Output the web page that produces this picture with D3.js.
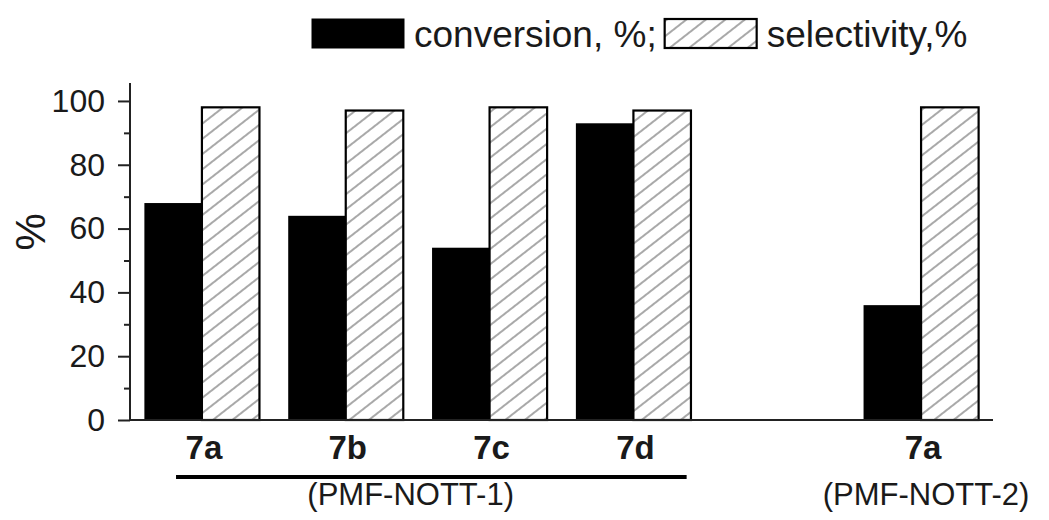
<!DOCTYPE html>
<html>
<head>
<meta charset="utf-8">
<script src="https://cdn.jsdelivr.net/npm/d3@7"></script>
<style>
  html, body { margin: 0; padding: 0; background: #fff; }
  svg { display: block; font-family: "Liberation Sans", Arial, sans-serif; }
</style>
</head>
<body>
<div id="chart"></div>
<script>
const samples = ["7a", "7b", "7c", "7d", "7a"];
const frameworks = ["PMF-NOTT-1", "PMF-NOTT-1", "PMF-NOTT-1", "PMF-NOTT-1", "PMF-NOTT-2"];
const conversion = [68, 64, 54, 93, 36];
const selectivity = [98, 97, 98, 97, 98];
const yTicks = [0, 20, 40, 60, 80, 100];
const yMinorTicks = [10, 30, 50, 70, 90];
const seriesNames = ["conversion, %;", "selectivity,%"];

const width = 1049;
const height = 520;
const textColor = "#1a1a1a";

// one band slot per sample, with an empty slot between the two frameworks
const slots = [];
samples.forEach((s, i) => {
  if (i > 0 && frameworks[i] !== frameworks[i - 1]) slots.push("gap" + i);
  slots.push(frameworks[i] + "/" + s);
});
const keyOf = (i) => frameworks[i] + "/" + samples[i];

const x = d3.scaleBand().domain(slots).range([130, 993]).padding(0);
const y = d3.scaleLinear().domain([0, 105]).range([420, 85]);
const barW = x.bandwidth() * 0.4;
const center = (i) => x(keyOf(i)) + x.bandwidth() / 2;

const svg = d3.select("#chart").append("svg")
  .attr("width", width)
  .attr("height", height);

svg.append("rect").attr("width", width).attr("height", height).attr("fill", "#fff");

//hatch pattern
const defs = svg.append("defs");
const pat = defs.append("pattern")
  .attr("id", "hatch")
  .attr("patternUnits", "userSpaceOnUse")
  .attr("width", 12)
  .attr("height", 12)
  .attr("patternTransform", "rotate(-38)");
pat.append("rect").attr("width", 12).attr("height", 12).attr("fill", "#fff");
pat.append("line")
  .attr("x1", 0).attr("x2", 12).attr("y1", 6).attr("y2", 6)
  .attr("stroke", "#7a7a7a").attr("stroke-width", 1.3);

const idx = d3.range(samples.length);

// conversion bars
svg.append("g").selectAll("rect")
  .data(idx)
  .join("rect")
  .attr("x", (i) => center(i) - barW)
  .attr("y", (i) => y(conversion[i]))
  .attr("width", barW)
  .attr("height", (i) => y(0) - y(conversion[i]))
  .attr("fill", "#000");

// selectivity bars
svg.append("g").selectAll("rect")
  .data(idx)
  .join("rect")
  .attr("x", (i) => center(i))
  .attr("y", (i) => y(selectivity[i]))
  .attr("width", barW)
  .attr("height", (i) => y(0) - y(selectivity[i]))
  .attr("fill", "url(#hatch)")
  .attr("stroke", "#000")
  .attr("stroke-width", 2.2);

// y axis
const yAxis = svg.append("g")
  .attr("transform", "translate(130,0)")
  .call(d3.axisLeft(y).tickValues(yTicks).tickSize(12).tickPadding(13).tickSizeOuter(0));
yAxis.select(".domain").remove();
yAxis.selectAll("line").attr("stroke", "#222").attr("stroke-width", 2);
yAxis.selectAll("text")
  .attr("fill", textColor)
  .style("font-size", "32px");

svg.append("g")
  .attr("transform", "translate(130,0)")
  .call(d3.axisLeft(y).tickValues(yMinorTicks).tickSize(6).tickFormat(""))
  .call((g) => g.select(".domain").remove())
  .selectAll("line").attr("stroke", "#222").attr("stroke-width", 2);

svg.append("line")
  .attr("x1", 130).attr("x2", 130)
  .attr("y1", y(0) + 1).attr("y2", y(105) - 2)
  .attr("stroke", "#222").attr("stroke-width", 2);

// x axis line
svg.append("line")
  .attr("x1", x.range()[0]).attr("x2", x.range()[1])
  .attr("y1", y(0)).attr("y2", y(0))
  .attr("stroke", "#222").attr("stroke-width", 2);

// y title
svg.append("text")
  .attr("transform", `translate(45,${y(59)}) rotate(-90)`)
  .attr("text-anchor", "middle")
  .attr("fill", textColor)
  .style("font-size", "42px")
  .text("%");

// sample labels
svg.append("g").selectAll("text")
  .data(idx)
  .join("text")
  .attr("x", (i) => center(i) + 2)
  .attr("y", 459)
  .attr("text-anchor", "middle")
  .attr("fill", textColor)
  .style("font-size", "33px")
  .style("font-weight", "bold")
  .text((i) => samples[i]);

// framework labels
const fwNames = [...new Set(frameworks)];
fwNames.forEach((fw) => {
  const members = idx.filter((i) => frameworks[i] === fw);
  const first = center(members[0]);
  const last = center(members[members.length - 1]);
  const mid = (first + last) / 2 + (members.length > 1 ? -7 : 5);
  if (members.length > 1) {
    svg.append("line")
      .attr("x1", first - 0.18 * x.step())
      .attr("x2", last + 0.37 * x.step())
      .attr("y1", 477).attr("y2", 477)
      .attr("stroke", "#000").attr("stroke-width", 4);
  }
  svg.append("text")
    .attr("x", mid)
    .attr("y", 505)
    .attr("text-anchor", "middle")
    .attr("fill", textColor)
    .style("font-size", "31px")
    .text("(" + fw + ")");
});

// legend
const legend = svg.append("g");
let lx = 312;
seriesNames.forEach((name, i) => {
  legend.append("rect")
    .attr("x", lx).attr("y", 19)
    .attr("width", 92).attr("height", 29)
    .attr("fill", i === 0 ? "#000" : "url(#hatch)")
    .attr("stroke", "#000")
    .attr("stroke-width", i === 0 ? 1 : 2.2);
  const t = legend.append("text")
    .attr("x", lx + 102)
    .attr("y", 47)
    .attr("fill", textColor)
    .style("font-size", "37px")
    .text(name);
  lx = lx + 102 + t.node().getComputedTextLength() + 8;
});
</script>
</body>
</html>
